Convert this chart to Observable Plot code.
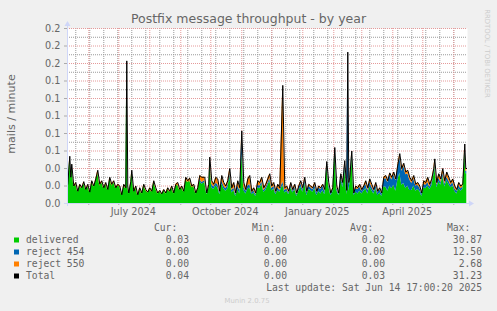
<!DOCTYPE html>
<html><head><meta charset="utf-8">
<script src="https://cdn.jsdelivr.net/npm/d3@7"></script>
<script src="https://cdn.jsdelivr.net/npm/@observablehq/plot@0.6"></script>
<style>
html,body{margin:0;padding:0;background:#f0f0f0;}
#chart{position:relative;width:497px;height:311px;overflow:hidden;background:#f0f0f0;}
#chart svg{display:block;}
</style></head><body><div id="chart"></div>
<script>
// ---------- data ----------
const dates = [
 "2024-05-10","2024-05-11","2024-05-13","2024-05-14","2024-05-15","2024-05-17","2024-05-19","2024-05-21","2024-05-23","2024-05-25","2024-05-27","2024-05-29","2024-05-31",
 "2024-06-02","2024-06-04","2024-06-06","2024-06-08","2024-06-10","2024-06-12","2024-06-14","2024-06-16","2024-06-18","2024-06-20","2024-06-22","2024-06-24","2024-06-26","2024-06-28","2024-06-30",
 "2024-07-02","2024-07-04","2024-07-06","2024-07-08","2024-07-09","2024-07-10","2024-07-11","2024-07-13","2024-07-14","2024-07-16","2024-07-18","2024-07-20","2024-07-22","2024-07-24","2024-07-26","2024-07-28","2024-07-30",
 "2024-08-01","2024-08-03","2024-08-05","2024-08-07","2024-08-09","2024-08-11","2024-08-13","2024-08-15","2024-08-17","2024-08-19","2024-08-21","2024-08-23","2024-08-25","2024-08-27","2024-08-29","2024-08-31",
 "2024-09-02","2024-09-04","2024-09-06","2024-09-08","2024-09-10","2024-09-12","2024-09-14","2024-09-16","2024-09-18","2024-09-20","2024-09-22","2024-09-25","2024-09-27","2024-09-29","2024-09-30",
 "2024-10-02","2024-10-04","2024-10-06","2024-10-08","2024-10-10","2024-10-12","2024-10-14","2024-10-16","2024-10-18","2024-10-20","2024-10-22","2024-10-24","2024-10-26","2024-10-28","2024-10-30",
 "2024-11-01","2024-11-03","2024-11-05","2024-11-07","2024-11-09","2024-11-11","2024-11-13","2024-11-15","2024-11-17","2024-11-19","2024-11-21","2024-11-23","2024-11-25","2024-11-27","2024-11-29",
 "2024-12-01","2024-12-03","2024-12-05","2024-12-07","2024-12-09","2024-12-12","2024-12-14","2024-12-16","2024-12-18","2024-12-20","2024-12-22","2024-12-24","2024-12-26","2024-12-28","2024-12-30",
 "2025-01-01","2025-01-03","2025-01-05","2025-01-07","2025-01-09","2025-01-11","2025-01-13","2025-01-15","2025-01-17","2025-01-19","2025-01-21","2025-01-23","2025-01-25","2025-01-27","2025-01-29","2025-01-31",
 "2025-02-02","2025-02-04","2025-02-06","2025-02-08","2025-02-10","2025-02-12","2025-02-14","2025-02-15","2025-02-16","2025-02-17","2025-02-19","2025-02-21","2025-02-23","2025-02-25","2025-02-27",
 "2025-03-01","2025-03-03","2025-03-05","2025-03-07","2025-03-09","2025-03-11","2025-03-13","2025-03-15","2025-03-17","2025-03-19","2025-03-21","2025-03-23","2025-03-25","2025-03-27","2025-03-29","2025-03-31",
 "2025-04-02","2025-04-04","2025-04-06","2025-04-08","2025-04-10","2025-04-12","2025-04-14","2025-04-16","2025-04-18","2025-04-20","2025-04-22","2025-04-24","2025-04-26","2025-04-28","2025-04-30",
 "2025-05-02","2025-05-04","2025-05-06","2025-05-08","2025-05-10","2025-05-12","2025-05-13","2025-05-15","2025-05-17","2025-05-19","2025-05-21","2025-05-23","2025-05-25","2025-05-27","2025-05-29","2025-05-31",
 "2025-06-02","2025-06-04","2025-06-06","2025-06-08","2025-06-10","2025-06-12","2025-06-13","2025-06-14"
];
const delivered = [
 .022,.021,.052,.029,.043,.019,.022,.013,.020,.017,.023,.015,.020,
 .012,.024,.019,.026,.035,.020,.024,.017,.022,.015,.028,.020,.024,.017,.020,
 .019,.009,.020,.017,.160,.019,.011,.023,.036,.013,.018,.009,.016,.011,.020,.015,.012,
 .016,.013,.024,.017,.011,.014,.010,.015,.011,.016,.013,.018,.011,.020,.021,.015,
 .018,.013,.027,.024,.026,.018,.020,.011,.016,.026,.022,.024,.010,.017,.046,
 .018,.016,.020,.018,.010,.022,.017,.014,.017,.031,.012,.015,.008,.016,.011,
 .057,.015,.011,.016,.018,.010,.012,.008,.018,.017,.022,.013,.015,.020,.026,
 .014,.017,.010,.015,.013,.021,.012,.014,.010,.018,.012,.016,.008,.014,.019,
 .013,.023,.009,.016,.015,.013,.017,.009,.014,.011,.015,.010,.042,.019,.009,.013,
 .058,.015,.009,.028,.018,.040,.010,.030,.014,.022,.054,.009,.013,.011,.014,
 .011,.014,.017,.011,.019,.015,.011,.017,.009,.012,.008,.019,.019,.014,.020,.017,
 .021,.014,.026,.035,.021,.023,.017,.020,.015,.015,.020,.014,.016,.014,.008,
 .018,.017,.020,.016,.020,.032,.042,.018,.025,.021,.031,.019,.026,.022,.018,.020,
 .014,.011,.017,.014,.016,.060,.034,.034
];
const reject454 = [
 0,0,0,0,0,0,0,0,0,0,0,0,0,
 0,0,0,0,0,0,0,0,0,0,0,0,0,0,0,
 0,0,0,0,0,0,0,0,0,0,0,0,0,0,0,0,0,
 0,0,0,0,0,0,0,0,0,0,0,0,0,0,0,0,
 0,0,0,0,0,0,0,0,0,.002,.002,.002,.001,.002,.003,
 .004,.003,.003,.004,.002,.004,.003,.003,.004,.004,.003,.003,.002,.004,.004,
 .020,.004,.003,.004,.004,.002,.003,.002,.003,.003,.003,.002,.003,.003,.003,
 .003,.003,.002,.003,.002,.004,.003,.003,.002,.003,.002,.003,.002,.003,.004,
 .003,.004,.003,.004,.003,.003,.004,.003,.004,.005,.005,.004,.004,.003,.002,.003,
 .004,.003,.002,.004,.004,.006,.004,.140,.008,.006,.004,.002,.004,.005,.005,
 .003,.004,.005,.004,.005,.004,.003,.004,.003,.004,.003,.008,.010,.010,.012,.010,
 .012,.012,.014,.018,.016,.020,.016,.014,.012,.008,.008,.006,.005,.004,.003,
 .004,.004,.004,.003,.004,.004,.004,.003,.004,.003,.004,.003,.004,.004,.003,.004,
 .003,.003,.004,.003,.003,.004,.003,.003
];
const reject550 = [
 .002,.001,.002,.001,.002,.001,.002,.001,.002,.001,.002,.001,.002,
 .001,.002,.001,.002,.003,.002,.002,.001,.002,.001,.002,.002,.002,.001,.002,
 .001,.001,.002,.001,.003,.001,.001,.002,.002,.001,.002,.001,.002,.001,.002,.001,.001,
 .002,.001,.002,.001,.001,.001,.001,.001,.001,.002,.001,.002,.001,.002,.003,.001,
 .002,.001,.003,.002,.003,.002,.002,.001,.002,.004,.006,.004,.001,.003,.004,
 .004,.003,.007,.006,.002,.006,.004,.003,.005,.005,.003,.006,.002,.006,.003,
 .006,.005,.002,.008,.010,.002,.003,.002,.005,.004,.005,.003,.004,.005,.005,
 .003,.004,.002,.004,.003,.110,.003,.003,.002,.003,.002,.003,.002,.003,.003,
 .002,.003,.002,.002,.002,.002,.003,.002,.002,.002,.002,.002,.002,.002,.001,.002,
 .002,.002,.001,.002,.002,.003,.001,.003,.002,.002,.002,.001,.003,.002,.003,
 .002,.002,.004,.003,.004,.003,.002,.003,.002,.002,.001,.003,.003,.002,.003,.003,
 .003,.002,.004,.004,.003,.003,.003,.004,.003,.003,.004,.002,.003,.002,.001,
 .004,.003,.006,.003,.004,.004,.005,.003,.005,.004,.005,.004,.006,.004,.003,.004,
 .003,.002,.003,.003,.003,.004,.003,.003
];
const seriesNames = ["delivered", "reject 454", "reject 550"];
const seriesColors = ["#00CC00", "#0066B3", "#FF8000"];
const totalName = "Total";
const totalColor = "#000000";
const yTicks = [0, 0.02, 0.04, 0.06, 0.08, 0.10, 0.12, 0.14, 0.16, 0.18, 0.20];
const yMinor = [0.01, 0.03, 0.05, 0.07, 0.09, 0.11, 0.13, 0.15, 0.17, 0.19];
const xLabelMonths = ["2024-07-01", "2024-10-01", "2025-01-01", "2025-04-01"];
const legendNames = ["delivered", "reject 454", "reject 550", "Total"];
const legendCur = ["0.03", "0.00", "0.00", "0.04"];
const legendMin = ["0.00", "0.00", "0.00", "0.00"];
const legendAvg = ["0.02", "0.00", "0.00", "0.03"];
const legendMax = ["30.87", "12.50", "2.68", "31.23"];
const titleText = "Postfix message throughput - by year";
const yLabel = "mails / minute";
const lastUpdate = "Last update: Sat Jun 14 17:00:20 2025";
const footer = "Munin 2.0.75";
const watermark = "RRDTOOL / TOBI OETIKER";
const startTime = "2024-05-10T17:00:00Z";
const endTime = "2025-06-14T17:00:00Z";

// ---------- build ----------
const cols = [delivered, reject454, reject550];
const rows = dates.flatMap((d, i) => seriesNames.map((s, j) => ({date: new Date(d), series: s, value: cols[j][i]})));
const totals = dates.map((d, i) => ({date: new Date(d), value: delivered[i] + reject454[i] + reject550[i]}));
const start = new Date(startTime), end = new Date(endTime);
const months = d3.utcMonth.range(start, end);
const firstSunday = new Date("2024-05-19T00:00:00Z");
const biweekly = d3.range(0, 400, 14).map(k => d3.utcDay.offset(firstSunday, k)).filter(d => d < end);
const labelDates = xLabelMonths.map(m => d3.utcHour.offset(new Date(m), 14 * 24 + 12));

const FONT = "#666666";
const minorColor = "#9a9a9a";
const majorColor = "#e59a9a";
const axisColor = "#CFD6F8";

const chart = Plot.plot({
  width: 497, height: 220,
  marginLeft: 67, marginRight: 30, marginTop: 28, marginBottom: 17,
  style: {background: "transparent", fontFamily: "'DejaVu Sans', sans-serif", fontSize: "9.7px", color: FONT},
  x: {type: "utc", domain: [start, end]},
  y: {domain: [0, 0.2]},
  color: {domain: seriesNames, range: seriesColors},
  marks: [
    Plot.frame({fill: "white", stroke: null}),
    Plot.ruleY(yMinor, {stroke: minorColor, strokeDasharray: "1,1"}),
    Plot.ruleX(biweekly, {stroke: minorColor, strokeDasharray: "1,1"}),
    Plot.ruleY(yTicks.slice(1), {stroke: majorColor, strokeDasharray: "1,1"}),
    Plot.ruleX(months, {stroke: majorColor, strokeDasharray: "1,1"}),
    Plot.areaY(rows, {x: "date", y: "value", z: "series", fill: "series", order: seriesNames, clip: true}),
    Plot.lineY(totals, {x: "date", y: "value", stroke: totalColor, strokeWidth: 1, clip: true}),
    Plot.axisY({ticks: yTicks, tickFormat: d3.format(".1f"), tickSize: 3, tickPadding: 4, stroke: "#aaa", fill: FONT, label: null}),
    Plot.axisX({ticks: months, tickSize: 2, tickFormat: () => "", stroke: "#aaa", label: null}),
    Plot.axisX({ticks: labelDates, tickFormat: d3.utcFormat("%B %Y"), tickSize: 0, tickPadding: 5, fill: FONT, label: null})
  ]
});

// decorations: axis lines, arrows, title, labels
const svg = d3.select(chart);
const xs = chart.scale("x"), ys = chart.scale("y");
const x0 = xs.apply(start), x1 = xs.apply(end), y0 = ys.apply(0), yT = ys.apply(0.2);
svg.append("line").attr("x1", x0 + 0.5).attr("x2", x0 + 0.5).attr("y1", y0 + 3).attr("y2", yT - 3).attr("stroke", axisColor);
svg.append("line").attr("x1", x0 - 3).attr("x2", x1 + 2).attr("y1", y0 + 0.5).attr("y2", y0 + 0.5).attr("stroke", axisColor);
svg.append("path").attr("d", `M${x0 + 0.5},${yT - 7}L${x0 - 2.5},${yT - 2}L${x0 + 3.5},${yT - 2}Z`).attr("fill", axisColor);
svg.append("path").attr("d", `M${x1 + 7},${y0 + 0.5}L${x1 + 2},${y0 - 2.5}L${x1 + 2},${y0 + 3.5}Z`).attr("fill", axisColor);
svg.append("text").text(titleText).attr("x", 248.5).attr("y", 23).attr("text-anchor", "middle")
  .attr("fill", FONT).style("font", "12.5px 'DejaVu Sans', sans-serif");
svg.append("text").text(yLabel).attr("transform", "translate(15,114) rotate(-90)").attr("text-anchor", "middle")
  .attr("fill", FONT).style("font", "11.1px 'DejaVu Sans', sans-serif");
svg.append("text").text(watermark).attr("transform", "translate(485,53.5) rotate(90)").attr("text-anchor", "middle")
  .attr("fill", "#cccccc").style("font", "6.9px 'DejaVu Sans', sans-serif");

document.getElementById("chart").append(chart);

// legend below
const lg = d3.create("svg").attr("width", 497).attr("height", 91)
  .style("font", "9.7px 'DejaVu Sans Mono', monospace").attr("fill", FONT);
const colRight = [189, 287, 385, 482];
const headers = ["Cur:", "Min:", "Avg:", "Max:"];
headers.forEach((h, k) => lg.append("text").text(h).attr("x", colRight[k] - 11.7).attr("y", 11).attr("text-anchor", "end"));
const legendColors = [...seriesColors, totalColor];
legendNames.forEach((n, i) => {
  const by = 23 + 12 * i;
  lg.append("rect").attr("x", 14).attr("y", by - 5.5).attr("width", 5).attr("height", 5).attr("fill", legendColors[i]);
  lg.append("text").text(n).attr("x", 26).attr("y", by);
  [legendCur, legendMin, legendAvg, legendMax].forEach((arr, k) =>
    lg.append("text").text(arr[i]).attr("x", colRight[k]).attr("y", by).attr("text-anchor", "end"));
});
lg.append("text").text(lastUpdate).attr("x", 482).attr("y", 71).attr("text-anchor", "end");
lg.append("text").text(footer).attr("x", 247).attr("y", 82.7).attr("text-anchor", "middle")
  .attr("fill", "#cccccc").style("font", "6.9px 'DejaVu Sans', sans-serif");
document.getElementById("chart").append(lg.node());
</script>
</body></html>
